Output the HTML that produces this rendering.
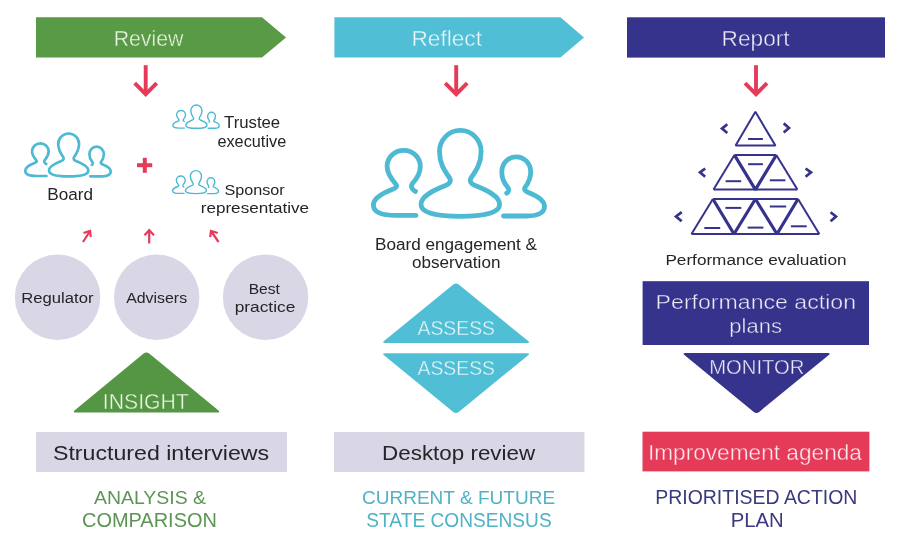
<!DOCTYPE html>
<html><head><meta charset="utf-8"><style>
html,body{margin:0;padding:0;background:#fff;}
body{width:900px;height:548px;overflow:hidden;}
svg{display:block;will-change:transform;}
text{font-family:"Liberation Sans",sans-serif;}
</style></head><body>
<svg width="900" height="548" viewBox="0 0 900 548">
<rect width="900" height="548" fill="#fff"/>
<polygon fill="#599a47" points="36,17.3 262,17.3 286,37.5 262,57.6 36,57.6"/>
<polygon fill="#50bfd5" points="334.4,17.3 560.4,17.3 584,37.5 560.4,57.6 334.4,57.6"/>
<rect fill="#35338b" x="627" y="17.3" width="258" height="40.3"/>
<g fill="none" stroke="#e53b58" stroke-width="3.9" stroke-linejoin="miter"><line x1="145.7" y1="65.2" x2="145.7" y2="93"/><polyline points="134.7,83.2 145.7,94.2 156.7,83.2"/></g>
<g fill="none" stroke="#e53b58" stroke-width="3.9" stroke-linejoin="miter"><line x1="456.2" y1="65.2" x2="456.2" y2="93"/><polyline points="445.2,83.2 456.2,94.2 467.2,83.2"/></g>
<g fill="none" stroke="#e53b58" stroke-width="3.9" stroke-linejoin="miter"><line x1="756" y1="65.2" x2="756" y2="93"/><polyline points="745,83.2 756,94.2 767,83.2"/></g>
<rect fill="#e53b58" x="137" y="163.2" width="15.2" height="4"/>
<rect fill="#e53b58" x="142.8" y="157.8" width="4" height="15"/>
<g fill="none" stroke="#e53b58" stroke-width="2.2" stroke-linecap="butt" stroke-linejoin="miter"><line x1="83" y1="242" x2="90" y2="231"/><polyline points="83.5,233 90,231 90.8,237"/><line x1="149.2" y1="243.5" x2="149.2" y2="230"/><polyline points="144.5,235.3 149.2,230.2 153.9,235.3"/><line x1="218.6" y1="242" x2="211" y2="231"/><polyline points="210.2,237.2 211,231 217.8,233"/></g>
<circle fill="#d9d7e6" cx="57.6" cy="297.2" r="42.7"/>
<circle fill="#d9d7e6" cx="156.7" cy="297.2" r="42.7"/>
<circle fill="#d9d7e6" cx="265.6" cy="297.2" r="42.7"/>
<g transform="translate(0.00,0.00) scale(1.0000)" fill="none" stroke="#4db9d2" stroke-width="4.8" stroke-linecap="round" stroke-linejoin="round"><path d="M460.3,216.3 C437,216.3 421,213 421,204.5 C421,196 434,190 445.5,185.5 C450,183.5 451.5,181 449.3,177.5 C444,170 439.5,163 439.5,151.5 C439.5,139.9 448.7,130.4 460.3,130.4 C471.9,130.4 481.1,139.9 481.1,151.5 C481.1,163 476.6,170 471.3,177.5 C469.1,181 470.6,183.5 475.1,185.5 C486.6,190 499.6,196 499.6,204.5 C499.6,213 483.6,216.3 460.3,216.3 Z"/><path d="M416,215.4 L396,215.4 C381,215.4 373.4,211.5 373.4,205 C373.4,198 383,193 392,189.5 C396,188 397.5,186.5 396,184.5 C390.5,178 387.1,173 387.1,166.5 C387.1,157.5 394.5,150.3 403.7,150.3 C412.9,150.3 420.3,157.5 420.3,166.5 C420.3,173 417,178.5 412.5,183.5 C410.5,186 411.5,189.5 415.5,191.5"/><path d="M503.5,216 L527,216 C538,216 544.5,212.5 544.5,206.5 C544.5,200 536,195.5 528.5,192.5 C525,191 523.8,189.5 525,187.5 C529,182 530.7,177.5 530.7,172 C530.7,163.5 524.2,156.8 516.2,156.8 C508.2,156.8 501.8,163.5 501.8,172 C501.8,178 504,183 507.5,187 C509.5,189.5 509,192 506.7,193.2"/></g>
<g transform="translate(-161.50,68.30) scale(0.5000)" fill="none" stroke="#4db9d2" stroke-width="5.4" stroke-linecap="round" stroke-linejoin="round"><path d="M460.3,216.3 C437,216.3 421,213 421,204.5 C421,196 434,190 445.5,185.5 C450,183.5 451.5,181 449.3,177.5 C444,170 439.5,163 439.5,151.5 C439.5,139.9 448.7,130.4 460.3,130.4 C471.9,130.4 481.1,139.9 481.1,151.5 C481.1,163 476.6,170 471.3,177.5 C469.1,181 470.6,183.5 475.1,185.5 C486.6,190 499.6,196 499.6,204.5 C499.6,213 483.6,216.3 460.3,216.3 Z"/><path d="M416,215.4 L396,215.4 C381,215.4 373.4,211.5 373.4,205 C373.4,198 383,193 392,189.5 C396,188 397.5,186.5 396,184.5 C390.5,178 387.1,173 387.1,166.5 C387.1,157.5 394.5,150.3 403.7,150.3 C412.9,150.3 420.3,157.5 420.3,166.5 C420.3,173 417,178.5 412.5,183.5 C410.5,186 411.5,189.5 415.5,191.5"/><path d="M503.5,216 L527,216 C538,216 544.5,212.5 544.5,206.5 C544.5,200 536,195.5 528.5,192.5 C525,191 523.8,189.5 525,187.5 C529,182 530.7,177.5 530.7,172 C530.7,163.5 524.2,156.8 516.2,156.8 C508.2,156.8 501.8,163.5 501.8,172 C501.8,178 504,183 507.5,187 C509.5,189.5 509,192 506.7,193.2"/></g>
<g transform="translate(71.66,69.71) scale(0.2710)" fill="none" stroke="#4db9d2" stroke-width="5.2" stroke-linecap="round" stroke-linejoin="round"><path d="M460.3,216.3 C437,216.3 421,213 421,204.5 C421,196 434,190 445.5,185.5 C450,183.5 451.5,181 449.3,177.5 C444,170 439.5,163 439.5,151.5 C439.5,139.9 448.7,130.4 460.3,130.4 C471.9,130.4 481.1,139.9 481.1,151.5 C481.1,163 476.6,170 471.3,177.5 C469.1,181 470.6,183.5 475.1,185.5 C486.6,190 499.6,196 499.6,204.5 C499.6,213 483.6,216.3 460.3,216.3 Z"/><path d="M416,215.4 L396,215.4 C381,215.4 373.4,211.5 373.4,205 C373.4,198 383,193 392,189.5 C396,188 397.5,186.5 396,184.5 C390.5,178 387.1,173 387.1,166.5 C387.1,157.5 394.5,150.3 403.7,150.3 C412.9,150.3 420.3,157.5 420.3,166.5 C420.3,173 417,178.5 412.5,183.5 C410.5,186 411.5,189.5 415.5,191.5"/><path d="M503.5,216 L527,216 C538,216 544.5,212.5 544.5,206.5 C544.5,200 536,195.5 528.5,192.5 C525,191 523.8,189.5 525,187.5 C529,182 530.7,177.5 530.7,172 C530.7,163.5 524.2,156.8 516.2,156.8 C508.2,156.8 501.8,163.5 501.8,172 C501.8,178 504,183 507.5,187 C509.5,189.5 509,192 506.7,193.2"/></g>
<g transform="translate(72.57,135.70) scale(0.2680)" fill="none" stroke="#4db9d2" stroke-width="5.2" stroke-linecap="round" stroke-linejoin="round"><path d="M460.3,216.3 C437,216.3 421,213 421,204.5 C421,196 434,190 445.5,185.5 C450,183.5 451.5,181 449.3,177.5 C444,170 439.5,163 439.5,151.5 C439.5,139.9 448.7,130.4 460.3,130.4 C471.9,130.4 481.1,139.9 481.1,151.5 C481.1,163 476.6,170 471.3,177.5 C469.1,181 470.6,183.5 475.1,185.5 C486.6,190 499.6,196 499.6,204.5 C499.6,213 483.6,216.3 460.3,216.3 Z"/><path d="M416,215.4 L396,215.4 C381,215.4 373.4,211.5 373.4,205 C373.4,198 383,193 392,189.5 C396,188 397.5,186.5 396,184.5 C390.5,178 387.1,173 387.1,166.5 C387.1,157.5 394.5,150.3 403.7,150.3 C412.9,150.3 420.3,157.5 420.3,166.5 C420.3,173 417,178.5 412.5,183.5 C410.5,186 411.5,189.5 415.5,191.5"/><path d="M503.5,216 L527,216 C538,216 544.5,212.5 544.5,206.5 C544.5,200 536,195.5 528.5,192.5 C525,191 523.8,189.5 525,187.5 C529,182 530.7,177.5 530.7,172 C530.7,163.5 524.2,156.8 516.2,156.8 C508.2,156.8 501.8,163.5 501.8,172 C501.8,178 504,183 507.5,187 C509.5,189.5 509,192 506.7,193.2"/></g>
<path fill="#549643" d="M149.49,353.74 Q146.40,351.20 143.31,353.75 L75.09,410.05 Q72.00,412.60 76.00,412.60 L217.00,412.60 Q221.00,412.60 217.91,410.06 Z"/>
<rect fill="#d9d7e6" x="36" y="432" width="251" height="40"/>
<rect fill="#d9d7e6" x="334" y="432" width="250.5" height="40"/>
<path fill="#50bfd5" d="M458.72,284.61 Q456.00,282.40 453.29,284.61 L384.31,340.79 Q381.60,343.00 385.10,343.00 L527.10,343.00 Q530.60,343.00 527.88,340.79 Z"/>
<path fill="#50bfd5" d="M384.31,355.51 Q381.60,353.30 385.10,353.30 L527.10,353.30 Q530.60,353.30 527.89,355.51 L458.71,411.89 Q456.00,414.10 453.29,411.89 Z"/>
<rect fill="#35338b" x="642.6" y="281.2" width="226.4" height="63.8"/>
<path fill="#35338b" d="M684.71,355.32 Q682.00,353.10 685.50,353.10 L827.70,353.10 Q831.20,353.10 828.49,355.31 L759.21,411.89 Q756.50,414.10 753.79,411.88 Z"/>
<rect fill="#e53b58" x="642.5" y="431.7" width="226.9" height="39.7"/>
<g fill="none" stroke="#35338b" stroke-linejoin="miter" stroke-miterlimit="1.8" stroke-linecap="butt"><polygon stroke-width="2" points="755.4,111.8 735.6,145.6 775.4,145.6"/><polyline stroke-width="2" points="734.5,155.1 776.3,155.1"/><polyline stroke-width="2" points="713.5,189.6 797.4,189.6"/><polyline stroke-width="2" points="713.5,189.6 734.5,155.1"/><polyline stroke-width="2" points="776.3,155.1 797.4,189.6"/><polyline stroke-width="3.2" points="734.5,155.1 755.4,189.6 776.3,155.1"/><polyline stroke-width="2" points="712.9,199 798,199"/><polyline stroke-width="2" points="691.5,234 819.3,234"/><polyline stroke-width="2" points="691.5,234 712.9,199"/><polyline stroke-width="2" points="798,199 819.3,234"/><polyline stroke-width="3.2" points="712.9,199 734,234 755.4,199 777,234 798,199"/><line stroke-width="2" x1="748.1" y1="139" x2="762.9" y2="139"/><line stroke-width="2" x1="748.1" y1="164.2" x2="762.9" y2="164.2"/><line stroke-width="2" x1="725.6" y1="181.2" x2="741.2" y2="181.2"/><line stroke-width="2" x1="769.8" y1="180.3" x2="785.4" y2="180.3"/><line stroke-width="2" x1="725.4" y1="207.9" x2="741.3" y2="207.9"/><line stroke-width="2" x1="769.8" y1="206.5" x2="786.2" y2="206.5"/><line stroke-width="2" x1="704.3" y1="228" x2="720.2" y2="228"/><line stroke-width="2" x1="747.6" y1="227.6" x2="763.4" y2="227.6"/><line stroke-width="2" x1="790.9" y1="226.3" x2="806.7" y2="226.3"/><polyline stroke-width="2.7" points="727.3,124.3 722,128.6 727.3,133"/><polyline stroke-width="2.7" points="783.7,123.4 789,127.9 783.7,132.6"/><polyline stroke-width="2.7" points="705.2,168.5 700,172.4 705.2,176.7"/><polyline stroke-width="2.7" points="805.6,168.5 811,172.4 805.6,176.7"/><polyline stroke-width="2.7" points="681.7,212.2 676,216.5 681.7,221.2"/><polyline stroke-width="2.7" points="830.6,212.2 836,216.5 830.6,221.2"/></g>
<text id="review" x="113.64" y="45.80" font-size="21.96" fill="#eef6e6" stroke="#599a47" stroke-width="0.4" textLength="69.73" lengthAdjust="spacingAndGlyphs">Review</text>
<text id="reflect" x="411.49" y="45.80" font-size="21.68" fill="#ecf8fb" stroke="#50bfd5" stroke-width="0.4" textLength="70.51" lengthAdjust="spacingAndGlyphs">Reflect</text>
<text id="report" x="721.64" y="45.80" font-size="21.68" fill="#eceaf6" stroke="#35338b" stroke-width="0.4" textLength="67.95" lengthAdjust="spacingAndGlyphs">Report</text>
<text id="board" x="47.37" y="199.70" font-size="15.85" fill="#252429" textLength="45.67" lengthAdjust="spacingAndGlyphs">Board</text>
<text id="trustee" x="224.04" y="127.90" font-size="15.57" fill="#252429" textLength="56.14" lengthAdjust="spacingAndGlyphs">Trustee</text>
<text id="executive" x="217.41" y="146.70" font-size="15.57" fill="#252429" textLength="68.81" lengthAdjust="spacingAndGlyphs">executive</text>
<text id="sponsor" x="224.45" y="194.80" font-size="14.73" fill="#252429" textLength="60.29" lengthAdjust="spacingAndGlyphs">Sponsor</text>
<text id="representative" x="200.71" y="212.80" font-size="14.73" fill="#252429" textLength="108.40" lengthAdjust="spacingAndGlyphs">representative</text>
<text id="regulator" x="21.34" y="302.90" font-size="14.46" fill="#252429" textLength="72.14" lengthAdjust="spacingAndGlyphs">Regulator</text>
<text id="advisers" x="126.15" y="302.90" font-size="14.73" fill="#252429" textLength="60.99" lengthAdjust="spacingAndGlyphs">Advisers</text>
<text id="best" x="248.67" y="294.00" font-size="15.01" fill="#252429" textLength="31.19" lengthAdjust="spacingAndGlyphs">Best</text>
<text id="practice" x="234.67" y="311.80" font-size="15.01" fill="#252429" textLength="60.70" lengthAdjust="spacingAndGlyphs">practice</text>
<text id="insight" x="102.86" y="408.60" font-size="22.53" fill="#eef6e6" stroke="#549643" stroke-width="0.4" textLength="85.94" lengthAdjust="spacingAndGlyphs">INSIGHT</text>
<text id="structured" x="52.97" y="459.60" font-size="20.85" fill="#252429" textLength="216.21" lengthAdjust="spacingAndGlyphs">Structured interviews</text>
<text id="analysis" x="94.00" y="504.00" font-size="18.49" fill="#5b9552" textLength="112.00" lengthAdjust="spacingAndGlyphs">ANALYSIS &amp;</text>
<text id="comparison" x="81.97" y="526.60" font-size="19.62" fill="#5b9552" textLength="134.95" lengthAdjust="spacingAndGlyphs">COMPARISON</text>
<text id="boardeng" x="375.02" y="250.40" font-size="15.57" fill="#252429" textLength="162.00" lengthAdjust="spacingAndGlyphs">Board engagement &amp;</text>
<text id="observation" x="412.04" y="267.90" font-size="15.57" fill="#252429" textLength="88.38" lengthAdjust="spacingAndGlyphs">observation</text>
<text id="assess1" x="417.52" y="334.90" font-size="20.93" fill="#ecf8fb" stroke="#50bfd5" stroke-width="0.4" textLength="77.44" lengthAdjust="spacingAndGlyphs">ASSESS</text>
<text id="assess2" x="417.52" y="374.60" font-size="20.93" fill="#ecf8fb" stroke="#50bfd5" stroke-width="0.4" textLength="77.44" lengthAdjust="spacingAndGlyphs">ASSESS</text>
<text id="desktop" x="382.12" y="459.80" font-size="20.99" fill="#252429" textLength="152.99" lengthAdjust="spacingAndGlyphs">Desktop review</text>
<text id="current" x="361.93" y="503.70" font-size="18.63" fill="#4fb2c6" textLength="193.18" lengthAdjust="spacingAndGlyphs">CURRENT &amp; FUTURE</text>
<text id="state" x="366.34" y="526.50" font-size="19.48" fill="#4fb2c6" textLength="185.36" lengthAdjust="spacingAndGlyphs">STATE CONSENSUS</text>
<text id="perfeval" x="665.44" y="264.70" font-size="15.29" fill="#252429" textLength="181.06" lengthAdjust="spacingAndGlyphs">Performance evaluation</text>
<text id="perfaction" x="655.64" y="309.00" font-size="20.85" fill="#eceaf6" stroke="#35338b" stroke-width="0.4" textLength="200.39" lengthAdjust="spacingAndGlyphs">Performance action</text>
<text id="plans" x="729.34" y="333.30" font-size="20.85" fill="#eceaf6" stroke="#35338b" stroke-width="0.4" textLength="52.62" lengthAdjust="spacingAndGlyphs">plans</text>
<text id="monitor" x="709.23" y="373.70" font-size="20.93" fill="#eceaf6" stroke="#35338b" stroke-width="0.4" textLength="95.21" lengthAdjust="spacingAndGlyphs">MONITOR</text>
<text id="improvement" x="647.90" y="460.00" font-size="21.68" fill="#fcecef" stroke="#e53b58" stroke-width="0.4" textLength="214.06" lengthAdjust="spacingAndGlyphs">Improvement agenda</text>
<text id="prioritised" x="655.28" y="503.70" font-size="19.62" fill="#3a387f" textLength="202.10" lengthAdjust="spacingAndGlyphs">PRIORITISED ACTION</text>
<text id="plan" x="730.70" y="526.70" font-size="19.77" fill="#3a387f" textLength="53.04" lengthAdjust="spacingAndGlyphs">PLAN</text>
</svg>
</body></html>
